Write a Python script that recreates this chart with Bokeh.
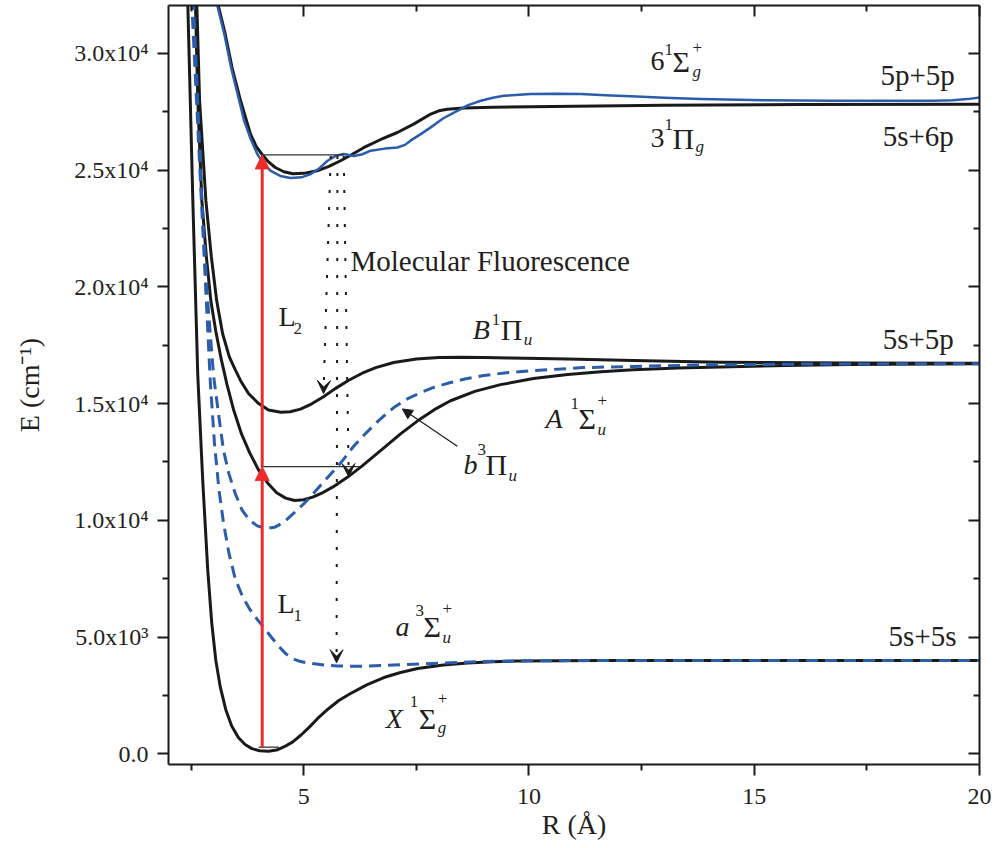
from bokeh.plotting import figure
from bokeh.models import (FixedTicker, LinearAxis, Arrow, NormalHead, VeeHead,
                          ColumnDataSource, Range1d)
from bokeh.core.properties import value
from bokeh.embed import file_html
from bokeh.resources import INLINE

# ---------------- data (R in Angstrom, E in cm^-1) ----------------
X_R = [2.40, 2.43, 2.54, 2.65, 2.76, 2.87, 2.96, 3.05, 3.15, 3.27, 3.40, 3.55, 3.70, 3.85, 4.02,
       4.22, 4.40, 4.56, 4.75, 4.93, 5.12, 5.31, 5.55, 5.78, 6.04, 6.40, 6.78, 7.15, 7.53, 8.10,
       8.64, 9.20, 9.75, 11.6, 14.0, 17.0, 20.0]
X_E = [34000, 32000, 23700, 16200, 11700, 7900, 5600, 4000, 2850, 1900, 1200, 700, 400, 220, 130,
       110, 160, 290, 500, 783, 1130, 1511, 1930, 2282, 2580, 2950, 3266, 3480, 3652, 3800,
       3887, 3945, 3973, 3994, 3994, 3994, 3994]

a3_R = [2.47, 2.52, 2.73, 2.93, 3.02, 3.12, 3.22, 3.34, 3.48, 3.64, 3.80, 3.96, 4.11, 4.28, 4.45,
        4.60, 4.75, 4.93, 5.16, 5.45, 5.75, 6.05, 6.40, 6.78, 7.30, 7.88, 8.50, 9.00, 10.0, 11.5,
        15.0, 20.0]
a3_E = [34000, 32000, 23700, 15850, 13300, 11300, 9900, 8600, 7500, 6750, 6200, 5780, 5420, 5000, 4600,
        4290, 4080, 3950, 3870, 3800, 3760, 3745, 3755, 3780, 3825, 3870, 3920, 3950, 3982, 3994,
        3994, 3994]

b3_R = [2.52, 2.56, 2.74, 2.87, 3.00, 3.11, 3.22, 3.34, 3.48, 3.63, 3.80, 3.97, 4.16, 4.35, 4.55,
        4.75, 5.00, 5.24, 5.47, 5.69, 5.89, 6.10, 6.33, 6.65, 7.00, 7.30, 7.60, 7.90, 8.26, 8.60,
        9.00, 9.50, 10.1, 11.2, 12.3, 13.8, 16.0, 20.0]
b3_E = [34000, 32000, 23700, 19400, 16200, 14570, 13000, 12000, 11150, 10450, 10000, 9760, 9650, 9700, 9900,
        10250, 10700, 11200, 11700, 12170, 12620, 13150, 13630, 14250, 14830, 15200, 15470, 15700, 15900, 16060,
        16200, 16320, 16410, 16540, 16590, 16650, 16690, 16710]

A_R = [2.58, 2.60, 2.65, 2.74, 2.84, 2.94, 3.05, 3.17, 3.30, 3.45, 3.62, 3.80, 4.00, 4.20, 4.40,
       4.60, 4.80, 5.00, 5.20, 5.40, 5.65, 5.97, 6.30, 6.78, 7.15, 7.53, 7.90, 8.26, 8.80, 9.37,
       10.1, 10.86, 11.6, 12.32, 13.3, 14.25, 15.7, 17.14, 20.0]
A_E = [34000, 32000, 27970, 23690, 21300, 19400, 18100, 16900, 15800, 14700, 13700, 12900, 12150, 11600, 11180,
       10950, 10850, 10880, 10990, 11160, 11430, 11840, 12330, 13100, 13700, 14260, 14740, 15120, 15520, 15810,
       16070, 16240, 16360, 16450, 16520, 16570, 16630, 16670, 16700]

B_R = [2.61, 2.63, 2.69, 2.83, 2.95, 3.07, 3.20, 3.35, 3.48, 3.60, 3.78, 4.00, 4.22, 4.49, 4.70,
       4.93, 5.18, 5.44, 5.70, 6.00, 6.30, 6.60, 7.00, 7.50, 8.00, 8.50, 9.00, 9.60, 10.86, 12.32,
       14.25, 17.14, 20.0]
B_E = [34000, 32000, 27970, 23690, 21300, 19400, 18000, 17000, 16450, 15980, 15420, 15000, 14720, 14624, 14650,
       14760, 14990, 15290, 15640, 16000, 16300, 16540, 16760, 16910, 16970, 16985, 16970, 16950, 16910, 16840,
       16770, 16735, 16730]

Pi3g_R = [3.05, 3.11, 3.26, 3.41, 3.60, 3.82, 3.95, 4.07, 4.22, 4.37, 4.56, 4.76, 5.00, 5.30, 5.56,
          5.82, 6.08, 6.34, 6.70, 7.08, 7.45, 7.82, 8.00, 8.19, 8.56, 9.20, 10.04, 12.99, 16.0, 20.0]
Pi3g_E = [33000, 32000, 30820, 29390, 27970, 26540, 26000, 25690, 25350, 25110, 24930, 24840, 24860, 24970, 25160,
          25400, 25680, 25970, 26300, 26610, 26980, 27400, 27540, 27610, 27655, 27690, 27710, 27780, 27810, 27820]

S6g_R = [3.03, 3.09, 3.24, 3.39, 3.57, 3.68, 3.82, 3.97, 4.12, 4.27, 4.48, 4.71, 4.95, 5.16, 5.35,
         5.53, 5.72, 5.89, 6.00, 6.12, 6.30, 6.49, 6.80, 7.08, 7.25, 7.37, 7.60, 7.82, 8.10, 8.41,
         8.65, 8.93, 9.20, 9.44, 10.04, 10.6, 11.15, 11.7, 12.26, 13.0, 13.81, 15.3, 16.76, 18.98, 19.4,
         19.73, 20.0]
S6g_E = [33000, 32000, 30820, 29390, 27970, 27110, 26350, 25690, 25250, 24970, 24750, 24660, 24690, 24830, 25080,
         25400, 25620, 25690, 25650, 25600, 25680, 25830, 25920, 25970, 26080, 26260, 26540, 26830, 27220, 27540,
         27780, 27970, 28100, 28180, 28255, 28270, 28255, 28210, 28160, 28095, 28040, 27990, 27970, 27970, 27995,
         28040, 28110]

# excitation / level scheme
R_LASER = 4.08
E_LEVEL0 = 283          # X state level
E_LEVEL1 = 12300        # A-state level reached by L1
E_LEVEL2 = 25650        # 3Pi_g level reached by L2
LEVEL0_R = (4.00, 4.45)
LEVEL1_R = (4.05, 6.26)
LEVEL2_R = (4.08, 5.89)
# fluorescence (dotted) arrows: (R_start, E_start, R_end, E_end)
FLUOR = [(5.60, 25600, 5.44, 15430),
         (5.89, 25600, 6.00, 11870),
         (5.75, 25600, 5.73, 3900)]
B3_POINTER = (8.41, 13170, 7.19, 14770)

x_ticks = [5, 10, 15, 20]
x_minor = [2.5, 7.5, 12.5, 17.5]
y_ticks = [0, 5000, 10000, 15000, 20000, 25000, 30000]
y_minor = [2500, 7500, 12500, 17500, 22500, 27500]
y_labels = ["0.0", "5.0x10\u00b3", "1.0x10\u2074", "1.5x10\u2074", "2.0x10\u2074", "2.5x10\u2074", "3.0x10\u2074"]

# ---------------- figure ----------------
W, H = 996, 848
BL, BR, BT, BB = 168, 17, 5, 84
X0, X1 = 2.0, 20.0
Y0, Y1 = -460, 32050
UX = (X1 - X0) / (W - BL - BR)   # data units per pixel
UY = (Y1 - Y0) / (H - BT - BB)

FONT = "Liberation Serif"
INK = "#231F20"
BLACK = "#1A1A1A"
BLUE = "#2B5DAB"
RED = "#EE2A2A"

p = figure(width=W, height=H, x_range=Range1d(X0, X1), y_range=Range1d(Y0, Y1),
           output_backend="svg", toolbar_location=None,
           min_border_left=BL, min_border_right=BR, min_border_top=BT, min_border_bottom=BB)
p.grid.visible = False
p.outline_line_color = None
p.background_fill_color = "white"
p.border_fill_color = "white"


def style_axis(ax, ticker, inside, show_labels):
    ax.ticker = ticker
    ax.axis_line_width = 2
    ax.axis_line_color = BLACK
    ax.major_tick_line_width = 2
    ax.minor_tick_line_width = 2
    ax.major_tick_line_color = BLACK
    ax.minor_tick_line_color = BLACK
    if inside:
        ax.major_tick_in, ax.major_tick_out = 11, 0
        ax.minor_tick_in, ax.minor_tick_out = 6, 0
    else:
        ax.major_tick_in, ax.major_tick_out = 0, 11
        ax.minor_tick_in, ax.minor_tick_out = 0, 6
    ax.major_label_text_font = FONT
    ax.major_label_text_font_size = "24px"
    ax.major_label_text_color = INK
    ax.axis_label_text_font = FONT
    ax.axis_label_text_font_size = "28px"
    ax.axis_label_text_font_style = "normal"
    ax.axis_label_text_color = INK
    if not show_labels:
        ax.major_label_overrides = {t: "" for t in ticker.ticks}
        ax.major_label_standoff = 0


xt = FixedTicker(ticks=x_ticks, minor_ticks=x_minor)
yt = FixedTicker(ticks=y_ticks, minor_ticks=y_minor)
style_axis(p.xaxis[0], xt, False, True)
style_axis(p.yaxis[0], yt, False, True)
p.xaxis[0].major_label_standoff = 13
p.xaxis[0].axis_label = "R (\u00c5)"
p.xaxis[0].axis_label_standoff = 2
p.yaxis[0].major_label_standoff = 9
p.yaxis[0].major_label_overrides = {t: s for t, s in zip(y_ticks, y_labels)}
p.yaxis[0].axis_label = "E (cm\u207b\u00b9)"
p.yaxis[0].axis_label_standoff = 26

top_ax = LinearAxis()
style_axis(top_ax, xt, True, False)
p.add_layout(top_ax, "above")
right_ax = LinearAxis()
style_axis(right_ax, yt, True, False)
p.add_layout(right_ax, "right")

# ---------------- curves ----------------
p.line(X_R, X_E, line_color=BLACK, line_width=3, line_join="round")
p.line(A_R, A_E, line_color=BLACK, line_width=3, line_join="round")
p.line(B_R, B_E, line_color=BLACK, line_width=3, line_join="round")
p.line(Pi3g_R, Pi3g_E, line_color=BLACK, line_width=3, line_join="round")
p.line(S6g_R, S6g_E, line_color=BLUE, line_width=2.5, line_join="round")
p.line(a3_R, a3_E, line_color=BLUE, line_width=3, line_dash="12 7")
p.line(b3_R, b3_E, line_color=BLUE, line_width=3, line_dash="12 7")

# vibrational levels
for (r0, r1), e in [(LEVEL0_R, E_LEVEL0), (LEVEL1_R, E_LEVEL1), (LEVEL2_R, E_LEVEL2)]:
    p.line([r0, r1], [e, e], line_color="#333333", line_width=1.3)

# laser arrows
for e0, e1 in [(E_LEVEL0, E_LEVEL1), (E_LEVEL1, E_LEVEL2)]:
    p.add_layout(Arrow(x_start=R_LASER, y_start=e0, x_end=R_LASER, y_end=e1,
                       line_color=RED, line_width=3,
                       end=NormalHead(size=14, fill_color=RED, line_color=RED, line_width=1)))

# fluorescence arrows
for r0, e0, r1, e1 in FLUOR:
    p.add_layout(Arrow(x_start=r0, y_start=e0, x_end=r1, y_end=e1,
                       line_color=BLACK, line_width=2, line_dash="3 14",
                       end=VeeHead(size=13, fill_color=BLACK, line_color=BLACK, line_width=1)))

# pointer to b3Pi_u
r0, e0, r1, e1 = B3_POINTER
p.add_layout(Arrow(x_start=r0, y_start=e0, x_end=r1, y_end=e1,
                   line_color=BLACK, line_width=1.2,
                   end=NormalHead(size=10, fill_color=BLACK, line_color=BLACK, line_width=1)))

# ---------------- texts ----------------
BIG, GREEK, SMALL = "28px", "30px", "17px"
LIFT = 9   # pixels: rendered baseline sits lower than requested
groups = {}


def add_label(x, y, pieces):
    for txt, dx, dy, size, style in pieces:
        key = (size, style)
        g = groups.setdefault(key, {"x": [], "y": [], "t": []})
        g["x"].append(x + dx * UX)
        g["y"].append(y + (dy + LIFT) * UY)
        g["t"].append(txt)


def state(x, y, head, sup, core, sub, plus, head_italic, d):
    # d: (sup_dx, sup_dy, core_dx, sub_dx, sub_dy, plus_dy)
    sdx, sdy, cdx, bdx, bdy, pdy = d
    pcs = [(head, 0, 0, BIG, "italic" if head_italic else "normal"),
           (sup, sdx, sdy, SMALL, "normal"),
           (core, cdx, 0, GREEK, "normal"),
           (sub, bdx, bdy, SMALL, "italic")]
    if plus:
        pcs.append(("+", bdx, pdy, SMALL, "normal"))
    add_label(x, y, pcs)


state(12.70, 29266, "6", "1", "\u03a3", "g", True, False, (14, 12, 22, 42, -10, 14))
state(12.70, 25968, "3", "1", "\u03a0", "g", False, False, (14, 14, 22, 45, -8, 0))
state(8.75, 17788, "B", "1", "\u03a0", "u", False, True, (19, 10, 28, 51, -10, 0))
state(10.37, 13976, "A", "1", "\u03a3", "u", True, True, (25, 15, 33, 52, -11, 18))
state(8.55, 12006, "b", "3", "\u03a0", "u", False, True, (14, 15, 22, 45, -11, 0))
state(7.04, 5067, "a", "3", "\u03a3", "u", True, True, (20, 16, 28, 47, -11, 18))
state(6.82, 1127, "X", "1", "\u03a3", "g", True, True, (24, 17, 33, 52, -9, 20))

add_label(4.44, 18344, [("L", 0, 0, BIG, "normal"), ("2", 15, -12, SMALL, "normal")])
add_label(4.42, 6052, [("L", 0, 0, BIG, "normal"), ("1", 16, -12, SMALL, "normal")])
add_label(6.04, 20700, [("Molecular Fluorescence", 0, 0, "29px", "normal")])
add_label(17.80, 28709, [("5p+5p", 0, 0, "29px", "normal")])
add_label(17.85, 26054, [("5s+6p", 0, 0, "29px", "normal")])
add_label(17.85, 17400, [("5s+5p", 0, 0, "29px", "normal")])
add_label(17.98, 4639, [("5s+5s", 0, 0, "29px", "normal")])

for (size, style), g in groups.items():
    src = ColumnDataSource(dict(x=g["x"], y=g["y"], t=g["t"]))
    p.text(x="x", y="y", text="t", source=src, text_font=value(FONT), text_font_size=value(size),
           text_font_style=value(style), text_color=INK, text_align="left", text_baseline="alphabetic")

open("out.html", "w").write(file_html(p, INLINE))
